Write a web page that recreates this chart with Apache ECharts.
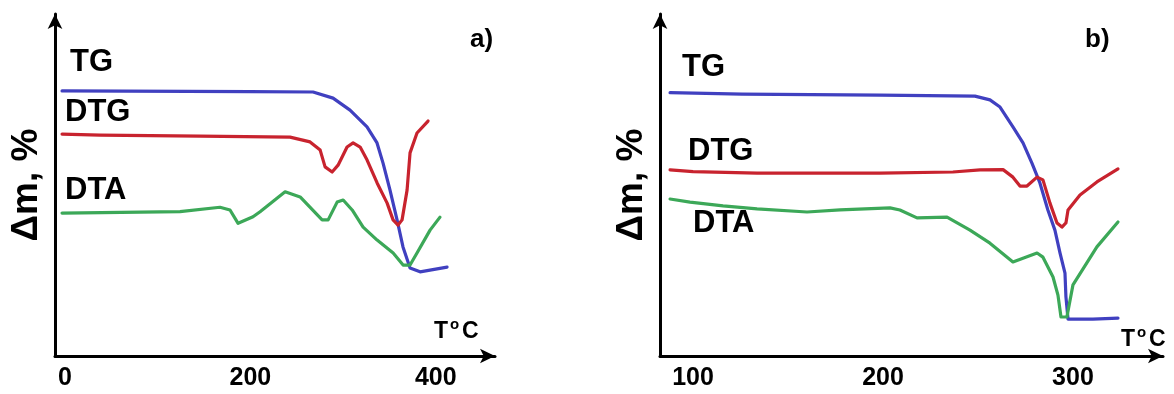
<!DOCTYPE html>
<html>
<head>
<meta charset="utf-8">
<script src="https://cdn.jsdelivr.net/npm/echarts@6/dist/echarts.min.js"></script>
<style>
html,body{margin:0;padding:0;background:#fff;}
#chart{width:1174px;height:394px;}
</style>
</head>
<body>
<div id="chart"></div>
<script>
// ---------- Panel a) ----------
const aTicks = [0, 200, 400];
const aTG_T  = [-3, 200, 267.6, 289.2, 307.5, 325.8, 336.6, 343.1, 350.6, 358.2, 364.6, 372.2, 383, 412.1];
const aTG_V  = [77.5, 77.3, 77.2, 75.4, 71.9, 67.0, 62.3, 56.4, 48.5, 39.8, 31.9, 25.7, 24.6, 26.0];
const aDTG_T = [-3, 38, 145.8, 242.8, 264.4, 275.3, 280.6, 288.2, 294.6, 304.3, 310.8, 318.4, 325.9, 336.7, 347.5, 353.9, 359.3, 363.6, 369.0, 372.2, 379.7, 391.6];
const aDTG_V = [64.9, 64.6, 64.3, 64.0, 62.6, 60.2, 55.3, 53.8, 55.8, 61.1, 62.3, 61.1, 57.3, 50.6, 44.7, 39.8, 38.3, 39.8, 48.5, 59.4, 65.2, 68.7];
const aDTA_T = [-3, 124.2, 167.3, 178.1, 186.8, 202.9, 210.5, 237.5, 253.7, 277.4, 283.9, 293.6, 300.1, 309.8, 321.6, 336.7, 354.0, 364.7, 372.2, 379.7, 393.8, 404.5];
const aDTA_V = [41.8, 42.2, 43.5, 42.7, 38.8, 40.7, 42.2, 48.0, 46.5, 39.8, 39.8, 45.0, 45.6, 42.7, 37.7, 33.9, 30.1, 26.6, 26.6, 30.1, 36.8, 40.6];

// ---------- Panel b) ----------
const bTicks = [100, 200, 300];
const bTG_T  = [87.9, 125.8, 198.4, 248.4, 256.3, 261.6, 268.4, 273.7, 278.4, 282.6, 286.8, 290.5, 293.2, 295.8, 296.3, 297.4, 310.5, 323.7];
const bTG_V  = [77.0, 76.6, 76.3, 76.0, 74.9, 72.8, 67.0, 62.3, 56.4, 50.6, 42.7, 36.8, 30.1, 24.2, 17.3, 10.8, 10.8, 11.1];
const bDTG_T = [87.9, 100.0, 133.7, 198.4, 236.8, 251.1, 263.2, 268.4, 272.1, 275.8, 281.1, 284.2, 287.9, 291.6, 294.2, 296.3, 297.4, 303.7, 312.6, 323.7];
const bDTG_V = [54.4, 53.9, 53.5, 53.5, 53.8, 54.4, 54.5, 52.3, 49.7, 49.7, 52.3, 51.5, 44.7, 38.9, 37.7, 38.9, 42.7, 47.1, 50.9, 54.7];
const bDTA_T = [87.9, 98.4, 115.8, 133.7, 160.0, 177.4, 203.7, 208.9, 217.9, 233.7, 245.8, 256.3, 268.4, 281.1, 284.2, 289.5, 292.1, 293.7, 296.8, 300.0, 312.6, 323.7];
const bDTA_V = [45.9, 45.0, 43.9, 43.0, 42.1, 42.7, 43.3, 42.7, 40.4, 40.6, 36.8, 33.0, 27.5, 30.1, 28.9, 23.1, 17.8, 11.4, 11.4, 20.8, 31.9, 39.2];

const seriesNames = ['TG', 'DTG', 'DTA'];
const yAxisName = 'Δm, %';
const tempName = ['T', 'o', 'C'];
const panelNames = ['a)', 'b)'];

const FONT = '"Liberation Sans", Arial, sans-serif';
const BLUE = '#4040c0', RED = '#c8232e', GREEN = '#3ca858';

function zip(t, v) { return t.map((x, i) => [x, v[i]]); }

function xAxis(grid, min, max, ticks) {
  return {
    gridIndex: grid, type: 'value', min: min, max: max,
    axisLine: { show: true, onZero: false, symbol: ['none', 'arrow'], symbolSize: [11, 15],
      lineStyle: { color: '#000', width: 3 } },
    axisTick: { show: false },
    splitLine: { show: false },
    axisLabel: { customValues: ticks, fontSize: 25, fontWeight: 'bold', color: '#000',
      fontFamily: FONT, margin: 10 }
  };
}
function yAxis(grid) {
  return {
    gridIndex: grid, type: 'value', min: 0, max: 100,
    name: yAxisName, nameLocation: 'middle', nameRotate: 90, nameGap: 10,
    nameTextStyle: { fontSize: 37, fontWeight: 'bold', color: '#000', fontFamily: FONT },
    axisLine: { show: true, onZero: false, symbol: ['none', 'arrow'], symbolSize: [11, 15],
      lineStyle: { color: '#000', width: 3 } },
    axisTick: { show: false }, axisLabel: { show: false }, splitLine: { show: false }
  };
}
function line(name, x, y, data, color) {
  return { name: name, type: 'line', xAxisIndex: x, yAxisIndex: y, data: data,
    showSymbol: false, symbol: 'none', animation: false,
    lineStyle: { color: color, width: 3.2, join: 'round', cap: 'round' } };
}
function label(text, x, y, size) {
  return { type: 'text', x: x, y: y, style: { text: text, fill: '#000',
    font: 'bold ' + size + 'px ' + FONT, align: 'left', verticalAlign: 'middle' } };
}
function tLabel(x, y) {
  return { type: 'group', x: x, y: y, children: [
    { type: 'text', x: 0, y: 0, style: { text: tempName[0], fill: '#000',
      font: 'bold 23px ' + FONT, align: 'left', verticalAlign: 'middle' } },
    { type: 'text', x: 16, y: -7, style: { text: tempName[1], fill: '#000',
      font: 'bold 15px ' + FONT, align: 'left', verticalAlign: 'middle' } },
    { type: 'text', x: 28, y: 0, style: { text: tempName[2], fill: '#000',
      font: 'bold 23px ' + FONT, align: 'left', verticalAlign: 'middle' } }
  ] };
}

const chart = echarts.init(document.getElementById('chart'), null, { renderer: 'canvas' });
chart.setOption({
  backgroundColor: '#fff',
  animation: false,
  grid: [
    { left: 55, right: 1174 - 495, top: 14, bottom: 38 },
    { left: 660, right: 1174 - 1163, top: 14, bottom: 38 }
  ],
  xAxis: [ xAxis(0, -10.6, 463.8, aTicks), xAxis(1, 82.6, 347.4, bTicks) ],
  yAxis: [ yAxis(0), yAxis(1) ],
  series: [
    line(seriesNames[0], 0, 0, zip(aTG_T, aTG_V), BLUE),
    line(seriesNames[1], 0, 0, zip(aDTG_T, aDTG_V), RED),
    line(seriesNames[2], 0, 0, zip(aDTA_T, aDTA_V), GREEN),
    line(seriesNames[0], 1, 1, zip(bTG_T, bTG_V), BLUE),
    line(seriesNames[1], 1, 1, zip(bDTG_T, bDTG_V), RED),
    line(seriesNames[2], 1, 1, zip(bDTA_T, bDTA_V), GREEN)
  ],
  graphic: [
    label(seriesNames[0], 70, 62, 31),
    label(seriesNames[1], 65, 112, 31),
    label(seriesNames[2], 65, 190, 31),
    label(panelNames[0], 470, 40, 26),
    tLabel(434, 332),
    label(seriesNames[0], 682, 67, 31),
    label(seriesNames[1], 688, 151, 31),
    label(seriesNames[2], 693, 223, 31),
    label(panelNames[1], 1085, 40, 26),
    tLabel(1121, 340)
  ]
});
</script>
</body>
</html>
